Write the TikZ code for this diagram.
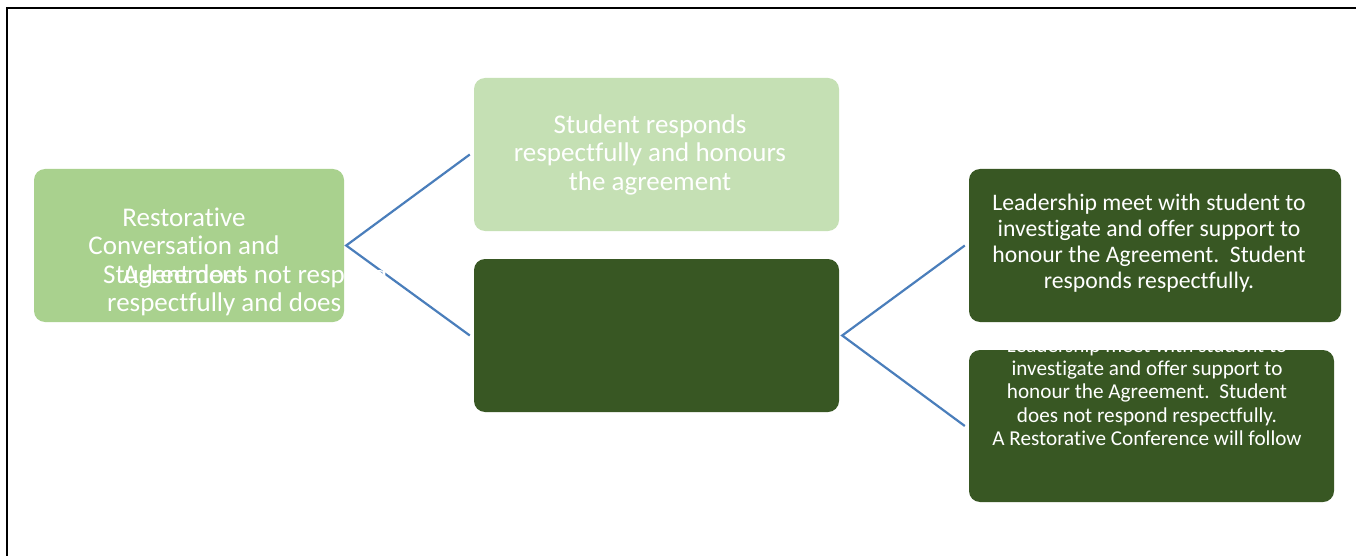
\documentclass[tikz,border=0pt]{standalone}
\usepackage{fontspec}
\setmainfont{Carlito}[Ligatures=NoCommon]
\definecolor{boxlight}{HTML}{A9D18E}
\definecolor{boxpale}{HTML}{C5E0B4}
\definecolor{boxdark}{HTML}{385723}
\definecolor{linkblue}{HTML}{4A7EBB}
\tikzset{
  box/.style={draw=none, rounded corners=11pt, inner sep=0pt},
  lightbox/.style={box, fill=boxlight},
  palebox/.style={box, fill=boxpale},
  darkbox/.style={box, fill=boxdark},
  link/.style={draw=linkblue, line width=2.2pt},
  bigtext/.style={text=white, inner sep=0pt, anchor=north, align=center, font=\fontsize{27}{28.5}\selectfont},
  midtext/.style={text=white, inner sep=0pt, anchor=north, align=center, font=\fontsize{23.7}{26}\selectfont},
  smalltext/.style={text=white, inner sep=0pt, anchor=north, align=center, font=\fontsize{21.2}{23.3}\selectfont},
}
\begin{document}
\begin{tikzpicture}[x=1pt,y=-1pt]
\useasboundingbox (0,0) rectangle (1356,556);
\fill[white] (0,0) rectangle (1356,556);
% frame
\draw[line width=1.3pt] (7,556) -- (7,8) -- (1356,8);
% boxes
\node[lightbox, minimum width=310pt, minimum height=153pt] (A) at (189,245.5) {};
\node[palebox, minimum width=365pt, minimum height=153pt] (B) at (656.5,154.5) {};
\node[darkbox, minimum width=365pt, minimum height=153pt] (C) at (656.5,335.5) {};
\node[darkbox, minimum width=372pt, minimum height=153pt] (D) at (1155,245.5) {};
\node[darkbox, minimum width=365pt, minimum height=152pt] (E) at (1151.5,426) {};
% connectors
\draw[link] ([xshift=-4pt]B.west) -- ([xshift=2pt]A.east) -- ([xshift=-4pt]C.west);
\draw[link] ([xshift=-4pt]D.west) -- ([xshift=3pt]C.east) -- ([xshift=-4pt]E.west);
% texts
\node[bigtext] (tA) at (184,206) {\strut Restorative\\Conversation and\\Agreement};
\node[bigtext, anchor=north west, align=left] (tC) at (103,263) {\strut Student does not respond\\\hspace*{4pt}respectfully and does not};
\node[bigtext] (tB) at (650,113) {\strut Student responds\\respectfully and honours\\the agreement};
\node[midtext] (tD) at (1149,191.8) {\strut Leadership meet with student to\\investigate and offer support to\\honour the Agreement.\ \ Student\\responds respectfully.};
\node[smalltext] (tE) at (1147,335.7) {\strut Leadership meet with student to\\investigate and offer support to\\honour the Agreement.\ \ Student\\does not respond respectfully.\\A Restorative Conference will follow};
\end{tikzpicture}
\end{document}
